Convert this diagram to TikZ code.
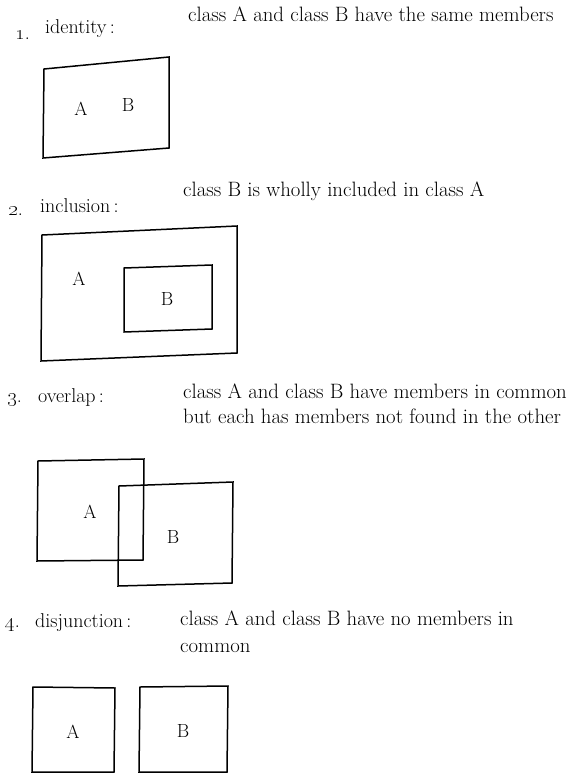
\documentclass[tikz,border=0pt]{standalone}
\usepackage{tikz}
\usetikzlibrary{positioning}

\tikzset{
    classbox/.style={line width=1.5pt, line join=miter},
    txt/.style={anchor=base west, inner sep=0pt, font=\fontsize{20}{24}\selectfont},
    desc/.style={txt, font=\fontsize{20.8}{25}\selectfont},
    setname/.style={inner sep=0pt, font=\fontsize{19}{22}\selectfont}
}

\begin{document}
\begin{tikzpicture}[x=1pt, y=-1pt]
    \useasboundingbox (0,0) rectangle (569,773);

    % 1. identity
    \node[txt] (n1) at (15,40) {\oldstylenums{1}.};
    \node[txt] (rel1) at (45,34) {identity\,:};
    \node[desc] (d1) at (188,22) {class A and class B have the same members};
    \coordinate (P1) at (44,69);
    \coordinate (P2) at (169,57);
    \coordinate (P3) at (169,148);
    \coordinate (P4) at (43,158);
    \draw[classbox] (P1) -- (P2) -- (P3) -- (P4) -- cycle;
    \node[setname] (a1) at (81,109) {A};
    \node[setname] (b1) at (128,105) {B};

    % 2. inclusion
    \node[txt] (n2) at (8,215) {\oldstylenums{2}.};
    \node[txt] (rel2) at (40,212) {inclusion\,:};
    \node[desc] (d2) at (183,196) {class B is wholly included in class A};
    \coordinate (Q1) at (42,235);
    \coordinate (Q2) at (237,226);
    \coordinate (Q3) at (237,353);
    \coordinate (Q4) at (41,361);
    \draw[classbox] (Q1) -- (Q2) -- (Q3) -- (Q4) -- cycle;
    \coordinate (R1) at (124,268);
    \coordinate (R2) at (212,265);
    \coordinate (R3) at (212,329);
    \coordinate (R4) at (124,332);
    \draw[classbox] (R1) -- (R2) -- (R3) -- (R4) -- cycle;
    \node[setname] (a2) at (79,279) {A};
    \node[setname] (b2) at (167,299) {B};

    % 3. overlap
    \node[txt] (n3) at (7,402) {\oldstylenums{3}.};
    \node[txt] (rel3) at (38,402) {overlap\,:};
    \node[desc] (d3) at (183,398) {class A and class B have members in common};
    \node[desc] (d3b) at (183,423) {but each has members not found in the other};
    \draw[classbox] (38,461) -- (144,459) -- (143,560) -- (37,561) -- cycle;
    \draw[classbox] (119,486) -- (233,482) -- (232,583) -- (118,586) -- cycle;
    \node[setname] (a3) at (90,512) {A};
    \node[setname] (b3) at (173,537) {B};

    % 4. disjunction
    \node[txt] (n4) at (5,627) {\oldstylenums{4}.};
    \node[txt] (rel4) at (35,627) {disjunction\,:};
    \node[desc] (d4) at (180,625) {class A and class B have no members in};
    \node[desc] (d4b) at (180,652) {common};
    \draw[classbox] (33,687) -- (115,688) -- (114,772) -- (32,772) -- cycle;
    \draw[classbox] (140,687) -- (228,686) -- (227,772) -- (139,772) -- cycle;
    \node[setname] (a4) at (73,732) {A};
    \node[setname] (b4) at (183,731) {B};
\end{tikzpicture}
\end{document}
